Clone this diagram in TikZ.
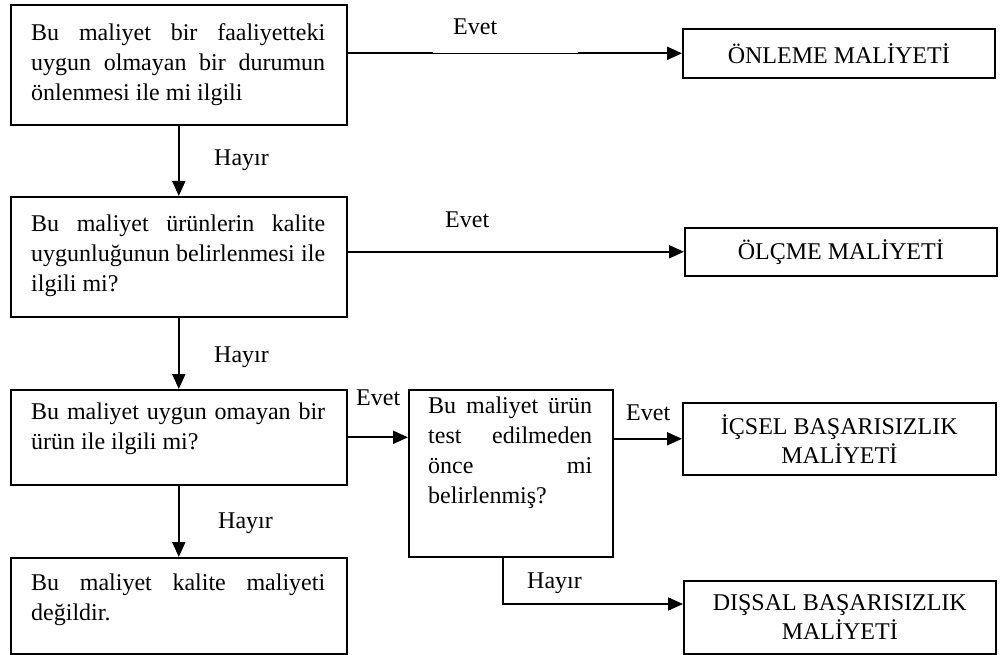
\documentclass[tikz,border=0pt]{standalone}
\usepackage{fontspec}
\setmainfont{Liberation Serif}
\usetikzlibrary{arrows.meta,positioning}

\tikzset{
  box/.style={draw=black, line width=1.6pt, rectangle, inner sep=0pt, anchor=north west},
  endbox/.style={box, align=center, font=\fontsize{24}{29}\selectfont},
  txt/.style={anchor=north west, inner sep=0pt, align=justify, font=\fontsize{24}{30}\selectfont},
  lbl/.style={anchor=base west, inner sep=0pt, font=\fontsize{24}{30}\selectfont},
  flow/.style={line width=2pt, -{Triangle[length=15pt,width=13pt]}},
  plain/.style={line width=2pt},
  thin/.style={line width=0.8pt}
}

\begin{document}
\begin{tikzpicture}[x=1pt,y=-1pt]
\useasboundingbox (0,0) rectangle (1001,655);

% question boxes, left column
\node[box, minimum width=336pt, minimum height=120pt] (b1) at (10,4) {};
\node[box, minimum width=336pt, minimum height=120pt] (b2) at (10,196) {};
\node[box, minimum width=336pt, minimum height=95pt]  (b3) at (10,389) {};
\node[box, minimum width=336pt, minimum height=96pt]  (b4) at (10,557) {};
% follow-up question box
\node[box, minimum width=204pt, minimum height=167pt] (b5) at (408,389) {};

% cost category boxes
\node[endbox, minimum width=312pt, minimum height=49pt] (r1) at (682,28) {ÖNLEME MALİYETİ};
\node[endbox, minimum width=312pt, minimum height=48pt] (r2) at (684,227) {ÖLÇME MALİYETİ};
\node[endbox, minimum width=313pt, minimum height=72pt] (r3) at (682,402) {İÇSEL BAŞARISIZLIK\\MALİYETİ};
\node[endbox, minimum width=312pt, minimum height=73pt] (r4) at (683,580) {DIŞSAL BAŞARISIZLIK\\MALİYETİ};

% justified question texts
\node[txt, text width=294pt] (t1) at (31,19) {\strut Bu maliyet bir faaliyetteki\linebreak uygun olmayan bir durumun\linebreak önlenmesi ile mi ilgili};
\node[txt, text width=294pt] (t2) at (31,210) {\strut Bu maliyet ürünlerin kalite\linebreak uygunluğunun belirlenmesi ile\linebreak ilgili mi?};
\node[txt, text width=294pt] (t3) at (31,398) {\strut Bu maliyet uygun omayan bir\linebreak ürün ile ilgili mi?};
\node[txt, text width=294pt] (t4) at (31,569) {\strut Bu maliyet kalite maliyeti\linebreak değildir.};
\node[txt, text width=164pt] (t5) at (428,392) {\strut Bu maliyet ürün\linebreak test edilmeden\linebreak önce mi\linebreak belirlenmiş?};

% connectors
\coordinate (e1a) at (433,0);
\coordinate (e1b) at (578,0);
\draw[plain] (r1.west -| b1.east) -- (r1.west -| e1a);
\draw[thin]  (r1.west -| e1a) -- (r1.west -| e1b);
\draw[flow]  (r1.west -| e1b) -- (r1.west);

\draw[flow] (b1.south) -- (b2.north);
\draw[flow] (r2.west -| b2.east) -- (r2.west);
\draw[flow] (b2.south) -- (b3.north);
\draw[flow] (b3.east) -- (b3.east -| b5.west);
\draw[flow] (b3.south) -- (b4.north);
\draw[flow] (r3.west -| b5.east) -- (r3.west);

\coordinate (k) at (503,604);
\draw[flow] (b5.south -| k) -- (k) -- (k -| r4.west);

% branch labels
\node[lbl] (ev1) at (453,35) {Evet};
\node[lbl] (ev2) at (445,228) {Evet};
\node[lbl] (ev3) at (356,405) {Evet};
\node[lbl] (ev4) at (626,420) {Evet};
\node[lbl] (h1) at (214,166) {Hayır};
\node[lbl] (h2) at (214,362) {Hayır};
\node[lbl] (h3) at (218,528) {Hayır};
\node[lbl] (h4) at (527,588) {Hayır};
\end{tikzpicture}
\end{document}
